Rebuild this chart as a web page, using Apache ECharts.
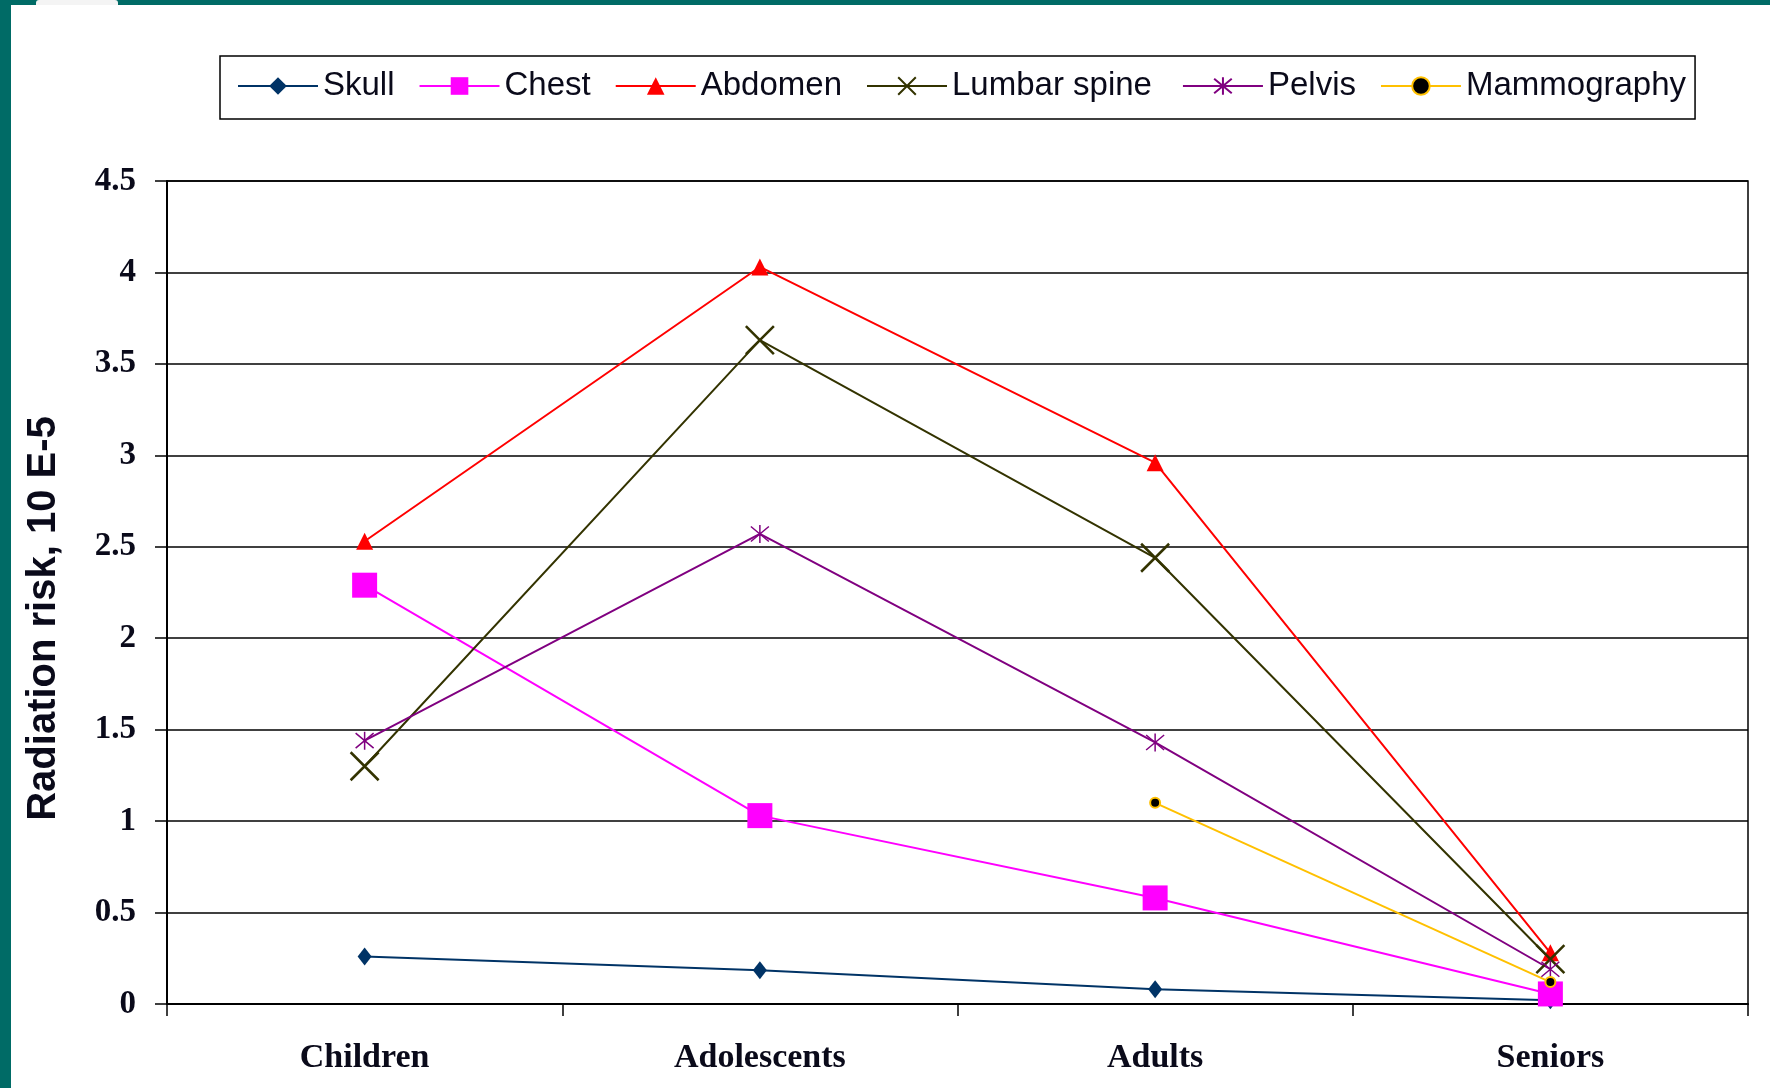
<!DOCTYPE html>
<html>
<head>
<meta charset="utf-8">
<script src="https://cdn.jsdelivr.net/npm/echarts@6/dist/echarts.min.js"></script>
<style>
html,body{margin:0;padding:0;background:#fff;}
#chart{width:1770px;height:1088px;}
</style>
</head>
<body>
<div id="chart"></div>
<script>
const categories = ['Children', 'Adolescents', 'Adults', 'Seniors'];
const yTicks = ['0', '0.5', '1', '1.5', '2', '2.5', '3', '3.5', '4', '4.5'];
const skull = [0.26, 0.185, 0.08, 0.02];
const chest = [2.29, 1.03, 0.58, 0.055];
const abdomen = [2.53, 4.03, 2.96, 0.28];
const lumbarSpine = [1.30, 3.63, 2.44, 0.245];
const pelvis = [1.44, 2.57, 1.43, 0.19];
const mammography = ['-', '-', 1.10, 0.12];

const X_PATH = 'path://M0,0L10,10M10,0L0,10';
const STAR_PATH = 'path://M0,0L10,10M10,0L0,10M5,-1L5,11';

function lineSeries(name, data, color, symbol, size, extra) {
  return Object.assign({
    name: name,
    type: 'line',
    data: data,
    symbol: symbol,
    symbolSize: size,
    showAllSymbol: true,
    connectNulls: false,
    animation: false,
    lineStyle: { color: color, width: 2 },
    itemStyle: { color: color, borderWidth: 0 }
  }, extra || {});
}

const chart = echarts.init(document.getElementById('chart'));
chart.setOption({
  backgroundColor: '#ffffff',
  animation: false,
  graphic: [
    { type: 'rect', left: 0, top: 0, shape: { width: 11, height: 1088 }, style: { fill: '#006B66' }, z: 100 },
    { type: 'rect', left: 0, top: 0, shape: { width: 1770, height: 5 }, style: { fill: '#006B66' }, z: 100 },
    { type: 'rect', left: 36, top: 0, shape: { width: 82, height: 5, r: [3, 3, 0, 0] }, style: { fill: '#f4f4f4' }, z: 101 }
  ],
  legend: {
    left: 220,
    top: 56,
    orient: 'horizontal',
    itemWidth: 80,
    itemHeight: 22,
    itemGap: 24,
    padding: [8, 9, 11, 17],
    borderColor: '#000',
    borderWidth: 1.5,
    backgroundColor: '#fff',
    textStyle: { fontFamily: 'Liberation Sans, Arial, sans-serif', fontSize: 33, color: '#0a0a1a', lineHeight: 34, padding: [0, 0, 10, 0] },
    data: [
      'Skull', 'Chest', 'Abdomen',
      { name: 'Lumbar spine', textStyle: { padding: [0, 6, 10, 0] } },
      'Pelvis', 'Mammography'
    ]
  },
  grid: {
    left: 167, right: 22, top: 181, bottom: 84,
    show: true, borderColor: '#000', borderWidth: 1.5, backgroundColor: 'transparent'
  },
  xAxis: {
    type: 'category',
    data: categories,
    boundaryGap: true,
    axisLine: { lineStyle: { color: '#000', width: 2 } },
    axisTick: { show: true, inside: false, length: 12, interval: 0, lineStyle: { color: '#000', width: 1.5 } },
    axisLabel: { fontFamily: 'Liberation Serif, Times New Roman, serif', fontWeight: 'bold', fontSize: 34, color: '#0a0a1a', margin: 37, interval: 0 },
    splitLine: { show: false }
  },
  yAxis: {
    type: 'value',
    min: 0, max: 4.5, interval: 0.5,
    name: 'Radiation risk, 10 E-5',
    nameLocation: 'middle',
    nameGap: 103,
    nameTextStyle: { fontFamily: 'Liberation Sans, Arial, sans-serif', fontWeight: 'bold', fontSize: 40, color: '#0a0a1a', padding: [0, 52, 0, 0] },
    axisLine: { show: true, lineStyle: { color: '#000', width: 2 } },
    axisTick: { show: true, inside: false, length: 12, lineStyle: { color: '#000', width: 1.5 } },
    axisLabel: {
      fontFamily: 'Liberation Serif, Times New Roman, serif', fontWeight: 'bold', fontSize: 33, color: '#0a0a1a', margin: 31,
      formatter: function (v, i) { return yTicks[i]; }
    },
    splitLine: { show: true, lineStyle: { color: '#000', width: 1.5 } }
  },
  series: [
    lineSeries('Skull', skull, '#003366', 'diamond', [14, 18]),
    lineSeries('Chest', chest, '#FF00FF', 'rect', 25),
    lineSeries('Abdomen', abdomen, '#FF0000', 'triangle', 17),
    lineSeries('Lumbar spine', lumbarSpine, '#333300', X_PATH, 28, {
      itemStyle: { color: '#333300', borderColor: '#333300', borderWidth: 2.5 }
    }),
    lineSeries('Pelvis', pelvis, '#800080', STAR_PATH, 18, {
      itemStyle: { color: '#800080', borderColor: '#800080', borderWidth: 1.5 }
    }),
    lineSeries('Mammography', mammography, '#FFC000', 'circle', 10, {
      itemStyle: { color: '#000000', borderColor: '#FFC000', borderWidth: 2 }
    })
  ]
});
</script>
</body>
</html>
